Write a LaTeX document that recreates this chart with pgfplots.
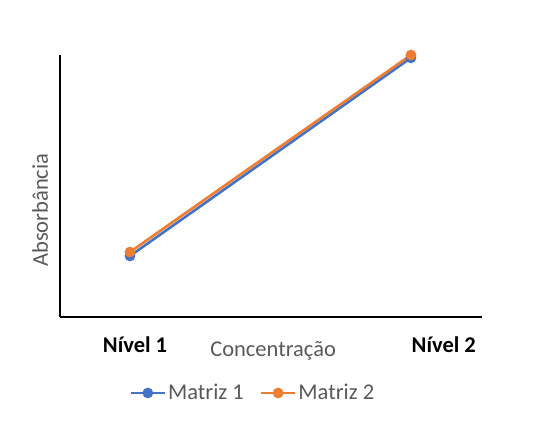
\documentclass[border=0pt]{standalone}
\usepackage{fontspec}
\setmainfont{Carlito}
\usepackage{pgfplots}
\pgfplotsset{compat=1.18}
\definecolor{xlblue}{HTML}{4472C4}
\definecolor{xlorange}{HTML}{ED7D31}
\definecolor{xlgray}{HTML}{595959}
\begin{document}
\begin{tikzpicture}
\path (-60pt,-109pt) rectangle (486pt,317pt);
\begin{axis}[
    at={(0,0)}, anchor=south west,
    width=422pt, height=262pt, scale only axis,
    xmin=0.751, xmax=2.253,
    ymin=0, ymax=1,
    axis x line=bottom, axis y line=left,
    axis line style={-, black, line width=1.6pt},
    ytick=\empty,
    xtick={1.018,2.117},
    xticklabels={Nível 1,Nível 2},
    major tick length=0pt,
    xticklabel style={font=\fontsize{22.5}{27}\selectfont\bfseries, text=black, yshift=-16pt},
    xlabel={Concentração},
    xlabel style={font=\fontsize{22.5}{27}\selectfont, text=xlgray, at={(axis description cs:0.505,-0.13)}, anchor=center},
    ylabel={Absorbância},
    ylabel style={font=\fontsize{22.5}{27}\selectfont, text=xlgray, at={(axis description cs:-0.047,0.408)}, anchor=center, rotate=0},
    clip=false,
    legend columns=2,
    legend style={draw=none, fill=none, font=\fontsize{22.5}{27}\selectfont, text=xlgray,
        at={(axis description cs:0.457,-0.29)}, anchor=center,
        /tikz/every even column/.append style={column sep=14pt}},
    legend image code/.code={
        \draw[#1] (0pt,0pt) -- (34pt,0pt);
        \draw[#1, mark repeat=1] plot coordinates {(17pt,0pt)};
    },
]
\addplot[color=xlblue, line width=2.6pt, mark=*, mark size=4pt, mark options={solid}]
    coordinates {(1,0.233) (2,0.989)};
\addplot[color=xlorange, line width=2.6pt, mark=*, mark size=4pt, mark options={solid}]
    coordinates {(1,0.248) (2,1.0)};
\legend{Matriz 1, Matriz 2}
\end{axis}
\end{tikzpicture}
\end{document}
